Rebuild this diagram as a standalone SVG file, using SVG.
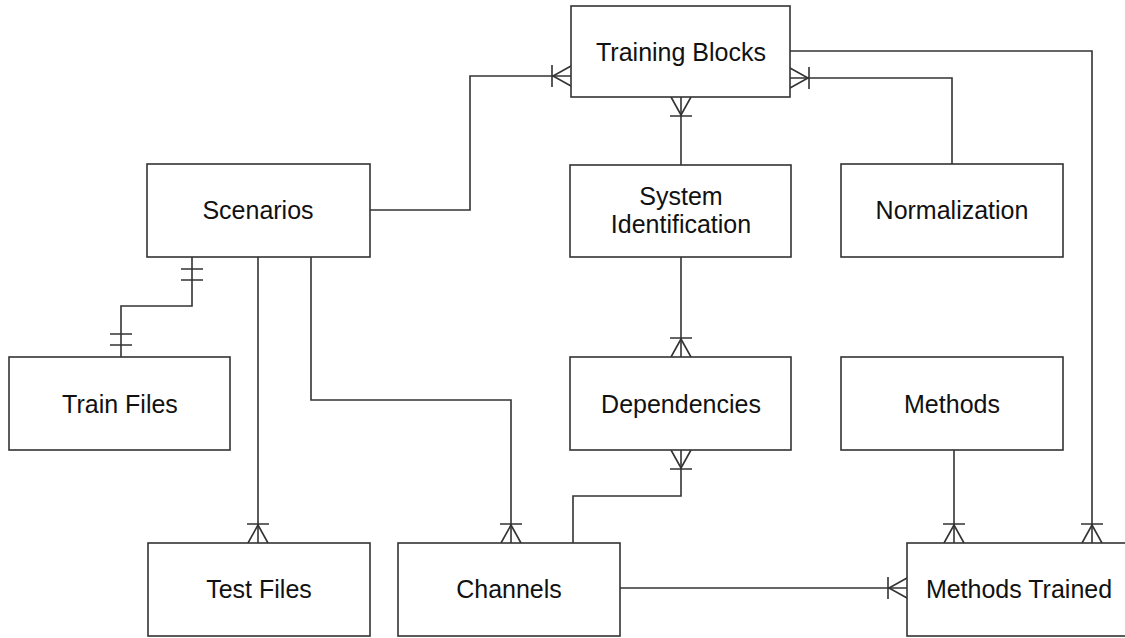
<svg xmlns="http://www.w3.org/2000/svg" width="1125" height="638" viewBox="0 0 1125 638">
<style>
.box{fill:#fff;stroke:#333;stroke-width:1.6}
.lbl{font-family:"Liberation Sans",Arial,sans-serif;font-size:25px;fill:#111;text-anchor:middle}
.conn{fill:none;stroke:#333;stroke-width:1.6}
.many{marker-end:url(#many)}
.one2{marker-start:url(#one2);marker-end:url(#one2)}
</style>
<defs>
<marker id="many" markerUnits="userSpaceOnUse" viewBox="-24 -12 26 24" refX="0" refY="0" markerWidth="26" markerHeight="24" orient="auto" overflow="visible">
<path d="M0,-10 L-18,0 L0,10 M-19,-11 V11" fill="none" stroke="#333" stroke-width="1.6"/>
</marker>
<marker id="one2" markerUnits="userSpaceOnUse" viewBox="-24 -12 26 24" refX="0" refY="0" markerWidth="26" markerHeight="24" orient="auto-start-reverse" overflow="visible">
<path d="M-12,-11 V11 M-23,-11 V11" fill="none" stroke="#333" stroke-width="1.6"/>
</marker>
</defs>
<g id="connectors">
<path class="conn many" d="M370,210 H470 V76 H571"/>
<path class="conn many" d="M681,165 V97"/>
<path class="conn many" d="M952,164 V78 H790"/>
<path class="conn many" d="M790,51 H1092 V543"/>
<path class="conn one2" d="M192,257 V306 H121 V357"/>
<path class="conn many" d="M258,257 V543"/>
<path class="conn many" d="M311,257 V400 H511 V543"/>
<path class="conn many" d="M681,257 V357"/>
<path class="conn many" d="M573,543 V496 H681 V450"/>
<path class="conn many" d="M954,450 V543"/>
<path class="conn many" d="M620,588 H907"/>
</g>
<g id="training-blocks"><rect class="box" x="571" y="6" width="219" height="91"/><text class="lbl" x="681" y="61">Training Blocks</text></g>
<g id="scenarios"><rect class="box" x="147" y="164" width="223" height="93"/><text class="lbl" x="258" y="219">Scenarios</text></g>
<g id="system-identification"><rect class="box" x="570" y="165" width="221" height="92"/><text class="lbl" x="681" y="205">System</text><text class="lbl" x="681" y="233">Identification</text></g>
<g id="normalization"><rect class="box" x="841" y="164" width="222" height="93"/><text class="lbl" x="952" y="219">Normalization</text></g>
<g id="train-files"><rect class="box" x="9" y="357" width="221" height="93"/><text class="lbl" x="120" y="413">Train Files</text></g>
<g id="dependencies"><rect class="box" x="570" y="357" width="221" height="93"/><text class="lbl" x="681" y="413">Dependencies</text></g>
<g id="methods"><rect class="box" x="841" y="357" width="222" height="93"/><text class="lbl" x="952" y="413">Methods</text></g>
<g id="test-files"><rect class="box" x="148" y="543" width="222" height="93"/><text class="lbl" x="259" y="598">Test Files</text></g>
<g id="channels"><rect class="box" x="398" y="543" width="222" height="93"/><text class="lbl" x="509" y="598">Channels</text></g>
<g id="methods-trained"><rect class="box" x="907" y="543" width="224" height="93"/><text class="lbl" x="1019" y="598">Methods Trained</text></g>
</svg>
